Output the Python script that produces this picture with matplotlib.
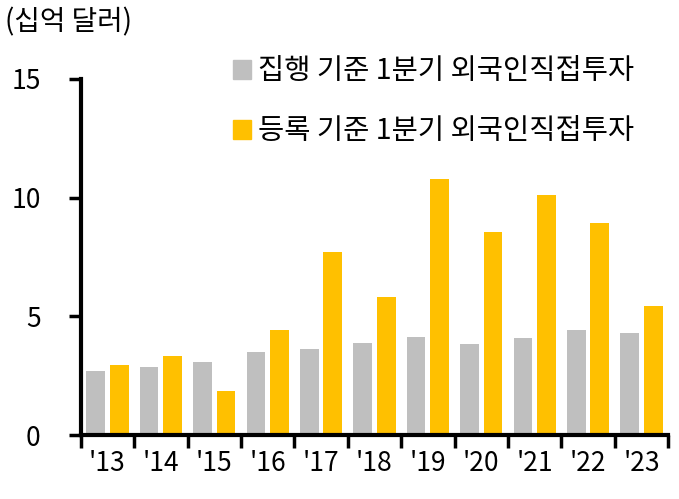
import numpy as np
import matplotlib.pyplot as plt
from matplotlib.patches import Patch

plt.rcParams['font.family'] = ['Noto Sans CJK KR', 'DejaVu Sans']

years = ["'13", "'14", "'15", "'16", "'17", "'18", "'19", "'20", "'21", "'22", "'23"]
executed = [2.70, 2.86, 3.07, 3.50, 3.63, 3.88, 4.12, 3.85, 4.09, 4.41, 4.31]
registered = [2.94, 3.33, 1.85, 4.42, 7.69, 5.80, 10.79, 8.54, 10.11, 8.91, 5.43]

gray = '#BFBFBF'
gold = '#FFC000'

fig = plt.figure(figsize=(6.79, 4.99), dpi=100)
ax = fig.add_axes([0.119, 0.128, 0.865, 0.714])

x = np.arange(len(years))
ax.bar(x - 0.22, executed, width=0.35, color=gray)
ax.bar(x + 0.22, registered, width=0.35, color=gold)

ax.set_xlim(-0.5, len(years) - 0.5)
ax.set_ylim(0, 15)
ax.set_yticks([0, 5, 10, 15])
ax.tick_params(axis='y', labelsize=19, length=9, width=2.5, direction='out', pad=20)
ax.set_xticks(np.arange(len(years) + 1) - 0.5)
ax.set_xticklabels([])
ax.set_xticks(x, minor=True)
ax.set_xticklabels(years, minor=True)
ax.tick_params(axis='x', which='major', length=9, width=2.5, direction='out')
ax.tick_params(axis='x', which='minor', length=0, labelsize=19, pad=11)

ax.spines['top'].set_visible(False)
ax.spines['right'].set_visible(False)
ax.spines['left'].set_linewidth(3)
ax.spines['bottom'].set_linewidth(3)

fig.text(0.008, 0.956, '(십억 달러)', fontsize=20, va='center', ha='left')

handles = [Patch(color=gray), Patch(color=gold)]
labels = ['집행 기준 1분기 외국인직접투자', '등록 기준 1분기 외국인직접투자']
fig.legend(handles, labels, loc='upper left', bbox_to_anchor=(0.326, 0.91),
           frameon=False, fontsize=20.5, handlelength=0.65, handleheight=0.65,
           handletextpad=0.25, labelspacing=1.05, borderaxespad=0)

fig.savefig('out.png', dpi=100)
